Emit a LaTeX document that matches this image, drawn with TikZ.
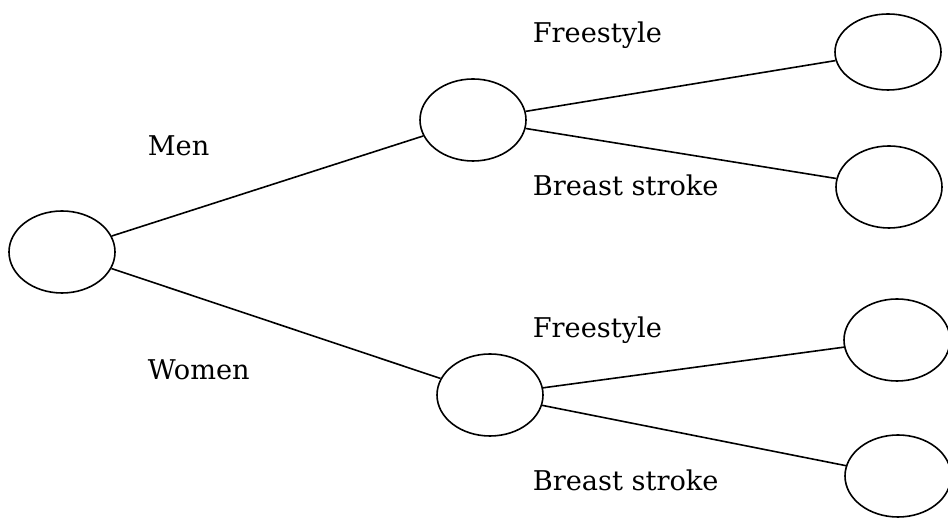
\documentclass[tikz,border=0pt]{standalone}
\usepackage{fontspec}
\setmainfont{DejaVu Serif}
\usetikzlibrary{shapes.geometric}

\begin{document}
\begin{tikzpicture}[x=0.5pt,y=-0.5pt,line width=0.8pt,
  outcome/.style={ellipse,draw=black,fill=white,minimum width=53pt,minimum height=41pt},
  branch/.style={anchor=west,inner sep=0pt,font=\fontsize{13.6}{16}\selectfont}]
\useasboundingbox (0,0) rectangle (948,522);
\node[outcome] (root) at (62,252) {};
\node[outcome] (men) at (473,120) {};
\node[outcome] (women) at (490,395) {};
\node[outcome,minimum height=38pt] (mfree) at (888,52) {};
\node[outcome] (mbreast) at (889,187) {};
\node[outcome] (wfree) at (897,340) {};
\node[outcome] (wbreast) at (898,476) {};
\draw (root)--(men);
\draw (root)--(women);
\draw (men)--(mfree);
\draw (men)--(mbreast);
\draw (women)--(wfree);
\draw (women)--(wbreast);
\node[branch] (lmen) at (147,146) {Men};
\node[branch] (lwomen) at (147,370) {Women};
\node[branch] (lmfree) at (532,35) {Freestyle};
\node[branch] (lmbreast) at (532,185) {Breast stroke};
\node[branch] (lwfree) at (532,330) {Freestyle};
\node[branch] (lwbreast) at (532,480) {Breast stroke};
\end{tikzpicture}
\end{document}
